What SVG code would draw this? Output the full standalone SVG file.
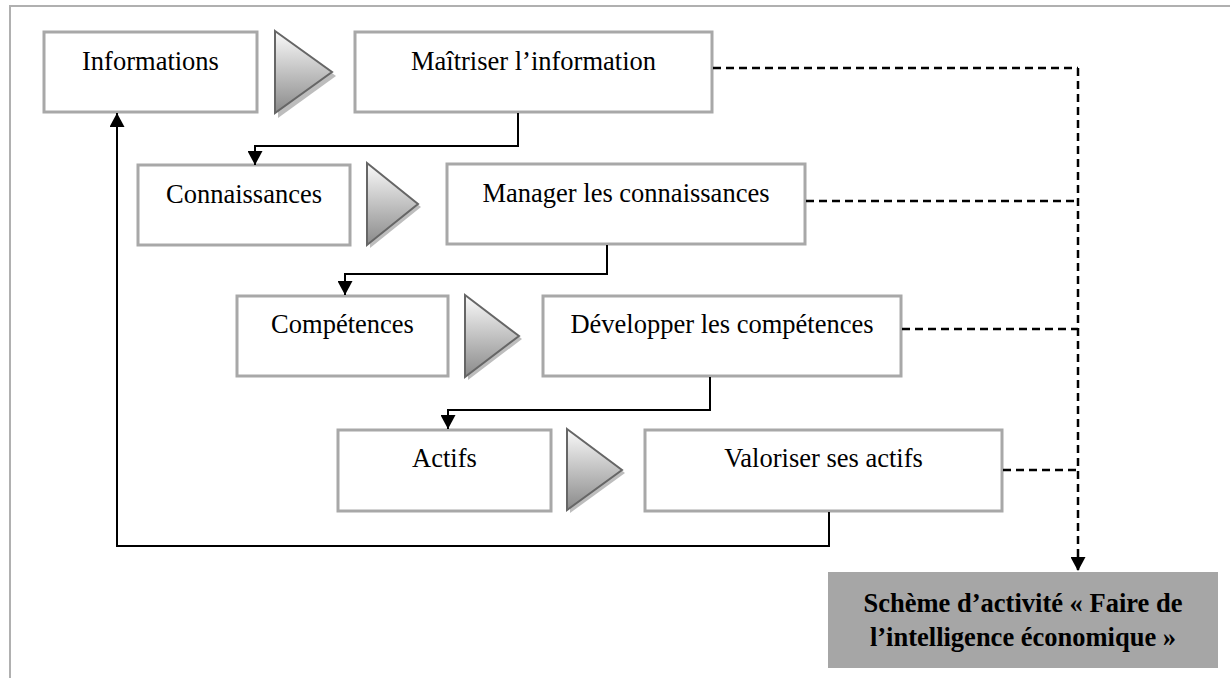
<svg xmlns="http://www.w3.org/2000/svg" width="1230" height="678" viewBox="0 0 1230 678">
<defs>
<linearGradient id="tg" x1="0" y1="0" x2="0" y2="1">
<stop offset="0" stop-color="#fafafa"/>
<stop offset="1" stop-color="#8a8a8a"/>
</linearGradient>
<marker id="ah" markerWidth="14" markerHeight="15" refX="14" refY="7.5" orient="auto" markerUnits="userSpaceOnUse">
<path d="M0,0 L14,7.5 L0,15 Z" fill="#000"/>
</marker>
</defs>
<style>
.box{fill:#fff;stroke:#a8a8a8;stroke-width:3}
.lbl{font-family:"Liberation Serif","Times New Roman",serif;font-size:26.5px;fill:#000;text-anchor:middle}
.bold{font-weight:bold}
.tri{fill:url(#tg);stroke:#666;stroke-width:2;stroke-linejoin:miter}
.sh{fill:#bdbdbd}
.ln{fill:none;stroke:#000;stroke-width:2}
.dash{fill:none;stroke:#000;stroke-width:2.5;stroke-dasharray:8 5}
.frame{fill:none;stroke:#b0b0b0;stroke-width:2}
</style>
<path class="frame" d="M10,678 L10,6 L1230,6"/>

<g id="informations"><rect class="box" x="44" y="32" width="213" height="80"/><text class="lbl" x="150.5" y="70">Informations</text></g>
<g id="arrow1"><polygon class="sh" points="278,34 336,76 278,118"/><polygon class="tri" points="275,31 332,72 275,113"/></g>
<g id="maitriser"><rect class="box" x="355" y="32" width="357" height="80"/><text class="lbl" x="533.5" y="70">Maîtriser l’information</text></g>

<g id="connaissances"><rect class="box" x="138" y="165" width="212" height="80"/><text class="lbl" x="244" y="203">Connaissances</text></g>
<g id="arrow2"><polygon class="sh" points="370,166 421,207 370,248"/><polygon class="tri" points="367,163 418,204 367,245"/></g>
<g id="manager"><rect class="box" x="447" y="164" width="358" height="80"/><text class="lbl" x="626" y="202">Manager les connaissances</text></g>

<g id="competences"><rect class="box" x="237" y="296" width="211" height="80"/><text class="lbl" x="342.5" y="333">Compétences</text></g>
<g id="arrow3"><polygon class="sh" points="468,298 522,339 468,380"/><polygon class="tri" points="465,295 519,336 465,377"/></g>
<g id="developper"><rect class="box" x="543" y="296" width="358" height="80"/><text class="lbl" x="722" y="333">Développer les compétences</text></g>

<g id="actifs"><rect class="box" x="338" y="430" width="213" height="81"/><text class="lbl" x="444.5" y="467">Actifs</text></g>
<g id="arrow4"><polygon class="sh" points="570,432 625,473 570,513"/><polygon class="tri" points="567,429 622,470 567,510"/></g>
<g id="valoriser"><rect class="box" x="645" y="430" width="357" height="81"/><text class="lbl" x="823.5" y="467">Valoriser ses actifs</text></g>

<g id="scheme"><rect x="828" y="572" width="390" height="96" fill="#a6a6a6"/><text class="lbl bold" x="1023" y="612">Schème d’activité « Faire de</text><text class="lbl bold" x="1023" y="646">l’intelligence économique »</text></g>

<g id="connectors">
<path class="ln" d="M518,113 V146 H255 V165" marker-end="url(#ah)"/>
<path class="ln" d="M607,245 V274 H345 V295" marker-end="url(#ah)"/>
<path class="ln" d="M710,377 V410 H448 V429" marker-end="url(#ah)"/>
<path class="ln" d="M829,512 V546 H117 V113" marker-end="url(#ah)"/>
<path class="dash" d="M713,68 H1078"/>
<path class="dash" d="M806,201 H1078"/>
<path class="dash" d="M902,329 H1078"/>
<path class="dash" d="M1003,470 H1078"/>
<path class="dash" d="M1078,68 V571" marker-end="url(#ah)"/>
</g>
</svg>
